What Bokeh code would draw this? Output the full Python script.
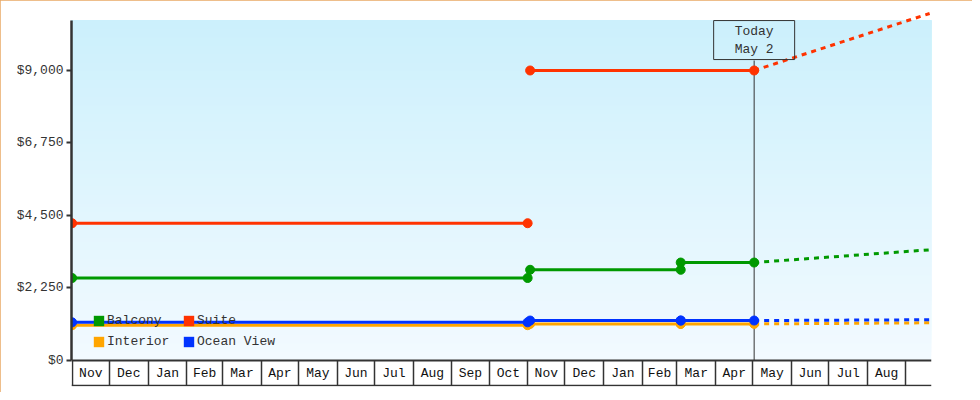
import numpy as np
import pandas as pd
from bokeh.plotting import figure
from bokeh.models import (Range1d, LinearAxis, FixedTicker, NumeralTickFormatter,
                          Legend, LegendItem, Label, Span, ColumnDataSource)
from bokeh.embed import file_html
from bokeh.resources import INLINE

NaN = float("nan")

# ---- data -------------------------------------------------------------
month_labels = ["Nov", "Dec", "Jan", "Feb", "Mar", "Apr", "May", "Jun", "Jul", "Aug",
                "Sep", "Oct", "Nov", "Dec", "Jan", "Feb", "Mar", "Apr", "May", "Jun",
                "Jul", "Aug"]
first_month = "2023-11-01"

hist_dates = ["2023-11-01", "2024-11-01", None, "2024-11-03", "2025-03-04", None,
              "2025-03-04", "2025-05-02"]
balcony = [2560, 2560, NaN, 2815, 2815, NaN, 3040, 3040]
interior = [1095, 1095, NaN, 1135, 1135, NaN, 1135, 1135]
ocean_view = [1185, 1185, NaN, 1240, 1240, NaN, 1240, 1240]

suite_dates = ["2023-11-01", "2024-11-01", None, "2024-11-03", "2025-05-02"]
suite = [4260, 4260, NaN, 9000, 9000]

proj_dates = ["2025-05-02", "2025-09-20"]
balcony_proj = [3040, 3435]
interior_proj = [1135, 1170]
ocean_view_proj = [1240, 1265]
suite_proj = [9000, 10770]

today = "2025-05-02"
today_text = "Today\nMay 2"
y_ticks = [0, 2250, 4500, 6750, 9000]

colors = {"Balcony": "#009900", "Suite": "#ff3300", "Interior": "#ffa500",
          "Ocean View": "#0033ff"}

FONT = "Liberation Mono"


def ms(d):
    if d is None:
        return NaN
    return pd.Timestamp(d).value / 1e6


x_start = ms("2023-10-31 12:00")
x_end = x_start + 691 * 86400000.0
y_top = 10550          # top of plotting band
y_bottom = -776        # bottom of month cells

p = figure(width=972, height=392,
           x_range=Range1d(x_start, x_end), y_range=Range1d(-807, 10862),
           x_axis_type=None, y_axis_type=None,
           output_backend="svg", toolbar_location=None,
           min_border_left=71, min_border_right=41, min_border_top=10,
           min_border_bottom=6)
p.background_fill_color = "white"
p.border_fill_color = "white"
p.outline_line_color = None
p.styles = {"outline": "1px solid #e9a864", "outline-offset": "-1px"}

# gradient band
N = 80
bands = np.linspace(0, y_top, N + 1)[:-1]
c0 = np.array([242, 250, 255])
c1 = np.array([204, 240, 252])
band_colors = []
for i in range(N):
    t = i / (N - 1)
    c = (c0 + (c1 - c0) * t).round().astype(int)
    band_colors.append("#%02x%02x%02x" % tuple(c))
p.quad(left=x_start, right=x_end, bottom=bands, top=y_top,
       fill_color=band_colors, line_color=None, level="image")

# today marker line
t_ms = ms(today)
p.segment(x0=[t_ms], y0=[0], x1=[t_ms], y1=[9310], line_color="#333333",
          line_width=1, level="underlay")


def draw(name, dates, vals, pdates, pvals):
    col = colors[name]
    src = ColumnDataSource(dict(x=[ms(d) for d in dates], y=vals))
    p.line("x", "y", source=src, line_color=col, line_width=3)
    p.scatter("x", "y", source=src, marker="circle", size=9, fill_color=col,
              line_color=col)
    p.line([ms(d) for d in pdates], pvals, line_color=col, line_width=3,
           line_dash="5 5")
    # zero-size quads: only used for the square legend swatch
    sw = p.quad(left="x", right="x", top="y", bottom="y", source=src,
                fill_color=col, line_color=None)
    return sw


sw_i = draw("Interior", hist_dates, interior, proj_dates, interior_proj)
sw_o = draw("Ocean View", hist_dates, ocean_view, proj_dates, ocean_view_proj)
sw_b = draw("Balcony", hist_dates, balcony, proj_dates, balcony_proj)
sw_s = draw("Suite", suite_dates, suite, proj_dates, suite_proj)

# x axis: month cells
bounds = pd.date_range(first_month, periods=len(month_labels) + 1, freq="MS")
bounds_ms = [b.value / 1e6 for b in bounds]
mids = [(bounds_ms[i] + bounds_ms[i + 1]) / 2 for i in range(len(month_labels))]
overrides = {float(m): lab for m, lab in zip(mids, month_labels)}

xaxis = LinearAxis(ticker=FixedTicker(ticks=mids, minor_ticks=bounds_ms),
                   fixed_location=0, major_label_overrides=overrides,
                   axis_line_color="#333333", axis_line_width=2,
                   major_tick_line_color=None, major_tick_out=0, major_tick_in=0,
                   minor_tick_line_color="#333333", minor_tick_line_width=1.5,
                   minor_tick_out=25, minor_tick_in=0,
                   major_label_standoff=-19, major_label_text_font=FONT,
                   major_label_text_font_size="13px",
                   major_label_text_color="#111111")
p.add_layout(xaxis, "below")
p.add_layout(Span(location=y_bottom, dimension="width", line_color="#333333",
                  line_width=1.5))

yaxis = LinearAxis(ticker=FixedTicker(ticks=y_ticks),
                   formatter=NumeralTickFormatter(format="$0,0"),
                   bounds=(0, y_top), axis_line_color="#333333", axis_line_width=2.5,
                   major_tick_line_color="#333333", major_tick_line_width=2,
                   major_tick_out=5, major_tick_in=0, minor_tick_line_color=None,
                   major_label_standoff=3, major_label_text_font=FONT,
                   major_label_text_font_size="13px",
                   major_label_text_color="#333333")
p.add_layout(yaxis, "left")

# today label
lab = Label(x=t_ms, y=y_top, text=today_text, text_align="center",
            text_baseline="top", text_font=FONT, text_font_size="13px",
            text_color="#333333", text_line_height=1.2,
            border_line_color="#333333", border_line_width=1,
            background_fill_color=None, padding=(21, 3))
p.add_layout(lab)

legend = Legend(items=[LegendItem(label="Balcony", renderers=[sw_b]),
                       LegendItem(label="Suite", renderers=[sw_s]),
                       LegendItem(label="Interior", renderers=[sw_i]),
                       LegendItem(label="Ocean View", renderers=[sw_o])],
                location=(21, 35), orientation="horizontal", ncols=2,
                spacing=1, padding=0, margin=0, glyph_width=13, glyph_height=13,
                label_standoff=2, label_width=74, label_height=20,
                label_text_font=FONT, label_text_font_size="13px",
                label_text_color="#333333", background_fill_alpha=0,
                border_line_color=None, level="underlay")
p.add_layout(legend, "center")

open("out.html", "w").write(file_html(p, INLINE))
